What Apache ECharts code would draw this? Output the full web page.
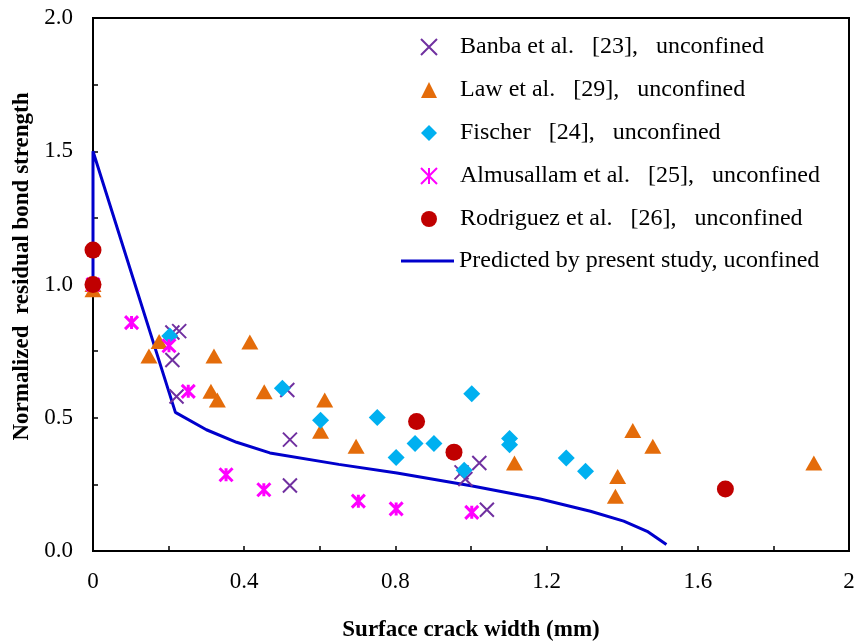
<!DOCTYPE html>
<html>
<head>
<meta charset="utf-8">
<script src="https://cdn.jsdelivr.net/npm/echarts@6/dist/echarts.min.js"></script>
<style>html,body{margin:0;padding:0;background:#fff;}#c{width:857px;height:643px;}</style>
</head>
<body>
<div id="c"></div>
<script>
const xTickLabels = ['0', '0.4', '0.8', '1.2', '1.6', '2'];
const yTickLabels = ['0.0', '0.5', '1.0', '1.5', '2.0'];
const seriesNames = [
  'Banba et al.   [23],   unconfined',
  'Law et al.   [29],   unconfined',
  'Fischer   [24],   unconfined',
  'Almusallam et al.   [25],   unconfined',
  'Rodriguez et al.   [26],   unconfined',
  'Predicted by present study, uconfined'
];
const banba = [[0.21,0.82],[0.228,0.825],[0.21,0.717],[0.221,0.58],[0.514,0.604],[0.521,0.418],[0.521,0.246],[0.975,0.295],[0.985,0.27],[1.022,0.33],[1.042,0.155]];
const law = [[0,1.0],[0,0.98],[0.148,0.732],[0.175,0.786],[0.32,0.732],[0.415,0.784],[0.312,0.599],[0.329,0.567],[0.453,0.598],[0.613,0.567],[0.602,0.449],[0.696,0.393],[1.115,0.33],[1.388,0.28],[1.382,0.205],[1.428,0.452],[1.481,0.393],[1.907,0.33]];
const fischer = [[0.203,0.807],[0.501,0.611],[0.602,0.491],[0.752,0.501],[0.852,0.403],[0.902,0.403],[0.802,0.351],[0.982,0.303],[1.002,0.59],[1.102,0.422],[1.102,0.399],[1.252,0.349],[1.303,0.299]];
const almusallam = [[0,1.0],[0.102,0.857],[0.201,0.77],[0.252,0.599],[0.352,0.286],[0.452,0.23],[0.702,0.187],[0.802,0.158],[1.002,0.145]];
const rodriguez = [[0,1.129],[0,1.0],[0.856,0.486],[0.955,0.371],[1.673,0.233]];
const predicted = [[0,1.0],[0,1.5],[0.218,0.52],[0.30,0.455],[0.38,0.408],[0.468,0.368],[0.65,0.325],[0.804,0.293],[1.0,0.245],[1.183,0.195],[1.316,0.149],[1.404,0.112],[1.466,0.074],[1.517,0.024]];

const FONT = '"Liberation Serif", "Times New Roman", serif';
const chart = echarts.init(document.getElementById('c'), null, {renderer: 'canvas'});
const legendText = {fontFamily: FONT, fontSize: 24, color: '#000', lineHeight: 24};
const option = {
  backgroundColor: '#fff',
  animation: false,
  grid: {left: 93, right: 8, top: 18, bottom: 92, show: true, borderColor: '#000', borderWidth: 2,
         containLabel: false, outerBoundsMode: 'none'},
  legend: [
    {orient: 'vertical', left: 420, top: 35, padding: 0, itemGap: 19, itemWidth: 16, itemHeight: 16,
     textStyle: Object.assign({padding: [0, 0, 0, 18]}, legendText), data: seriesNames.slice(0, 5)},
    {orient: 'vertical', left: 401, top: 249, padding: 0, itemWidth: 53, itemHeight: 3,
     textStyle: legendText, data: [{name: seriesNames[5], icon: 'rect'}]}
  ],
  xAxis: {
    type: 'value', min: 0, max: 2, interval: 0.4,
    name: 'Surface crack width (mm)', nameLocation: 'middle', nameGap: 68,
    nameTextStyle: {fontFamily: FONT, fontSize: 23, fontWeight: 'bold', color: '#000'},
    axisLine: {show: true, lineStyle: {color: '#000', width: 2}},
    axisTick: {show: true, inside: true, length: 5, lineStyle: {color: '#000', width: 1.5}},
    minorTick: {show: true, splitNumber: 2, length: 5, lineStyle: {color: '#000', width: 1.5}},
    splitLine: {show: false},
    axisLabel: {fontFamily: FONT, fontSize: 23, color: '#000', margin: 19,
      formatter: function (v) { const i = Math.round(v / 0.4); return xTickLabels[i] !== undefined ? xTickLabels[i] : ''; }}
  },
  yAxis: {
    type: 'value', min: 0, max: 2, interval: 0.5,
    name: 'Normalized  residual bond strength', nameLocation: 'middle', nameGap: 58,
    nameTextStyle: {fontFamily: FONT, fontSize: 23, fontWeight: 'bold', color: '#000', padding: [0, 0, 0, 36]},
    axisLine: {show: true, lineStyle: {color: '#000', width: 2}},
    axisTick: {show: true, inside: true, length: 5, lineStyle: {color: '#000', width: 1.5}},
    minorTick: {show: true, splitNumber: 2, length: 5, lineStyle: {color: '#000', width: 1.5}},
    splitLine: {show: false},
    axisLabel: {fontFamily: FONT, fontSize: 23, color: '#000', margin: 20,
      formatter: function (v) { const i = Math.round(v / 0.5); return yTickLabels[i] !== undefined ? yTickLabels[i] : ''; }}
  },
  series: [
    {name: seriesNames[5], type: 'line', data: predicted, showSymbol: false, symbol: 'none', z: 1,
     lineStyle: {color: '#0000CC', width: 3}, itemStyle: {color: '#0000CC'}},
    {name: seriesNames[0], type: 'scatter', data: banba, z: 3, symbol: 'path://M0,0L10,10M10,0L0,10', symbolSize: 14,
     itemStyle: {color: 'rgba(0,0,0,0)', borderColor: '#7030A0', borderWidth: 2, opacity: 1}},
    {name: seriesNames[1], type: 'scatter', data: law, z: 3, symbol: 'triangle', symbolSize: [17, 15],
     itemStyle: {color: '#E46C0A', opacity: 1}},
    {name: seriesNames[2], type: 'scatter', data: fischer, z: 3, symbol: 'diamond', symbolSize: 17,
     itemStyle: {color: '#00B0F0', opacity: 1}},
    {name: seriesNames[3], type: 'scatter', data: almusallam, z: 3, symbol: 'path://M0,0L10,10M10,0L0,10M5,0L5,10', symbolSize: 13,
     itemStyle: {color: 'rgba(0,0,0,0)', borderColor: '#FF00FF', borderWidth: 3, opacity: 1}},
    {name: seriesNames[4], type: 'scatter', data: rodriguez, z: 3, symbol: 'circle', symbolSize: 17,
     itemStyle: {color: '#C00000', opacity: 1}}
  ]
};
chart.setOption(option);
</script>
</body>
</html>
